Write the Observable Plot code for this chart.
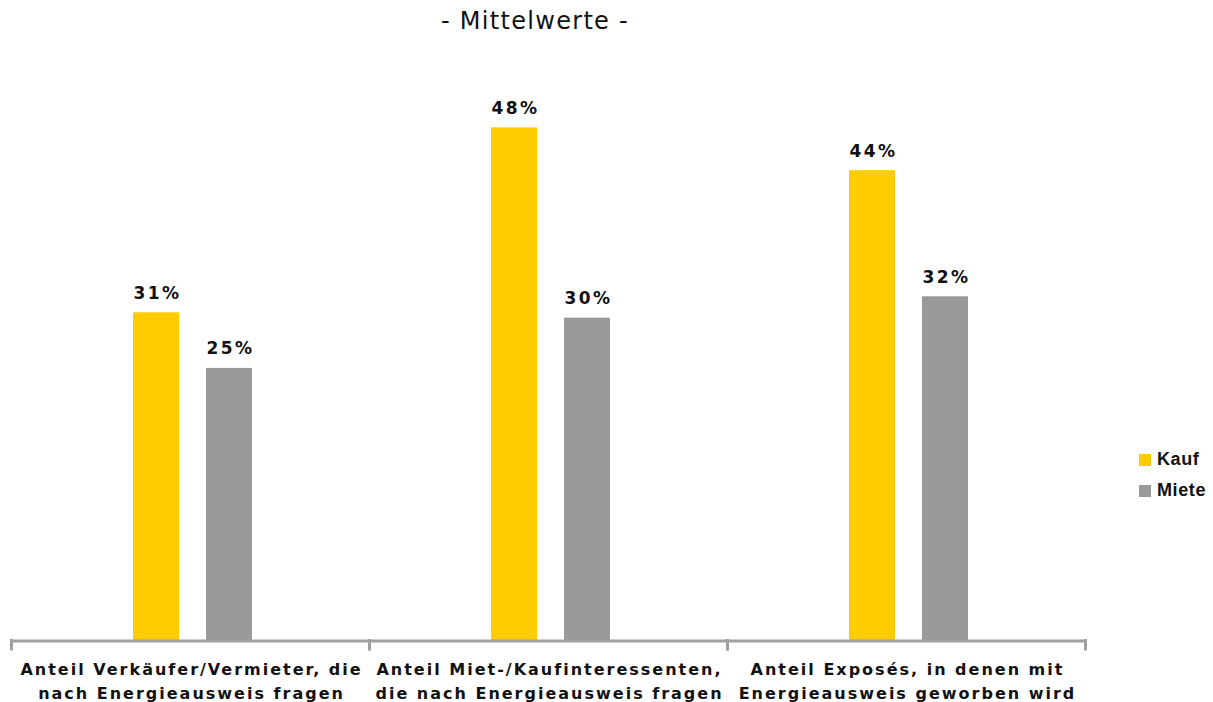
<!DOCTYPE html>
<html>
<head>
<meta charset="utf-8">
<script src="https://cdn.jsdelivr.net/npm/d3@7"></script>
<script src="https://cdn.jsdelivr.net/npm/@observablehq/plot@0.6"></script>
<style>
  body { margin: 0; background: #fff; }
  #wrap { position: relative; width: 1213px; height: 702px; overflow: hidden; }
  #title { position: absolute; left: 0; width: 1070px; top: 7px; text-align: center;
           font-family: "DejaVu Sans", sans-serif; font-size: 24px; letter-spacing: 1.3px; color: #111; }
  #chart { position: absolute; left: 0; top: 0; }
  #legend { position: absolute; left: 1139px; top: 444px; font-family: "Liberation Sans", Arial, sans-serif;
            font-weight: bold; font-size: 18px; letter-spacing: 0.6px; color: #111; }
  .item { display: flex; align-items: center; height: 31px; }
  .sw { width: 12px; height: 12px; margin-right: 6px; }
</style>
</head>
<body>
<div id="wrap">
  <div id="chart"></div>
  <div id="title">- Mittelwerte -</div>
  <div id="legend"></div>
</div>
<script>
const categories = [
  "Anteil Verkäufer/Vermieter, die\nnach Energieausweis fragen",
  "Anteil Miet-/Kaufinteressenten,\ndie nach Energieausweis fragen",
  "Anteil Exposés, in denen mit\nEnergieausweis geworben wird"
];
const series = ["Kauf", "Miete"];
const kaufValues = [30.7, 48.0, 44.0];
const mieteValues = [25.5, 30.2, 32.2];
const kaufLabels = ["31%", "48%", "44%"];
const mieteLabels = ["25%", "30%", "32%"];
const colors = ["#ffcc00", "#999999"];

const data = [];
categories.forEach((c, i) => {
  data.push({category: c, series: "Kauf", value: kaufValues[i], label: kaufLabels[i]});
  data.push({category: c, series: "Miete", value: mieteValues[i], label: mieteLabels[i]});
});

const chart = Plot.plot({
  width: 1213,
  height: 702,
  marginLeft: 10,
  marginRight: 127,
  marginTop: 106,
  marginBottom: 61.5,
  fx: {domain: categories, padding: 0, axis: null},
  x: {domain: series, paddingInner: 0.365, paddingOuter: 1.608, align: 0.51, axis: null},
  y: {domain: [0, 50], axis: null},
  color: {domain: series, range: colors},
  marks: [
    Plot.barY(data, {fx: "category", x: "series", y: "value", fill: "series"}),
    Plot.ruleY([0], {stroke: "#a0a0a0", strokeWidth: 3}),
    Plot.frame({anchor: "left", stroke: "#a0a0a0", strokeWidth: 3, insetTop: 534, insetBottom: -8}),
    Plot.frame({anchor: "right", stroke: "#a0a0a0", strokeWidth: 3, insetTop: 534, insetBottom: -8}),
    Plot.text(data, {fx: "category", x: "series", y: "value", text: "label", dy: -14, dx: 1, lineAnchor: "bottom",
      fontFamily: "DejaVu Sans, sans-serif", fontSize: 17, fontWeight: "bold", fill: "#111"}),
    Plot.text(categories, {fx: d => d, text: d => d, frameAnchor: "bottom", dy: 18, dx: 1, lineAnchor: "top",
      lineHeight: 1.45, fontFamily: "DejaVu Sans, sans-serif", fontSize: 16, fontWeight: "bold", fill: "#111"})
  ]
});
const textGroups = chart.querySelectorAll('g[aria-label="text"]');
if (textGroups[0]) textGroups[0].style.letterSpacing = "2.5px";
if (textGroups[1]) textGroups[1].style.letterSpacing = "2px";
document.getElementById("chart").appendChild(chart);

const legend = document.getElementById("legend");
series.forEach((s, i) => {
  const item = document.createElement("div");
  item.className = "item";
  const sw = document.createElement("div");
  sw.className = "sw";
  sw.style.background = colors[i];
  const t = document.createElement("span");
  t.textContent = s;
  item.appendChild(sw);
  item.appendChild(t);
  legend.appendChild(item);
});
</script>
</body>
</html>
